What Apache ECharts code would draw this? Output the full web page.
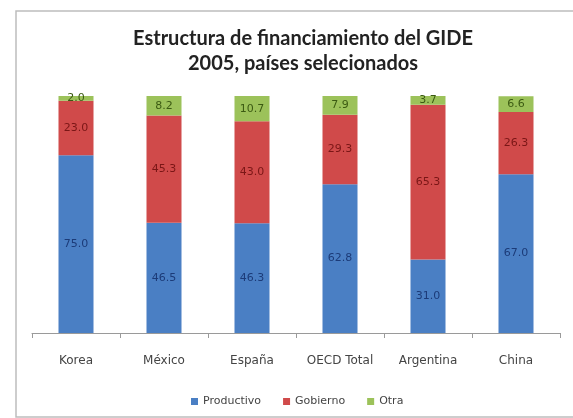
<!DOCTYPE html>
<html>
<head>
<meta charset="utf-8">
<script src="https://cdn.jsdelivr.net/npm/echarts@6/dist/echarts.min.js"></script>
<style>
  html, body { margin: 0; padding: 0; background: #ffffff; }
  #chart { width: 573px; height: 418px; }
</style>
</head>
<body>
<div id="chart"></div>
<script>
// Financing structure of GERD (%), 2005
const paises = ['Korea', 'México', 'España', 'OECD Total', 'Argentina', 'China'];
const productivo = [75.0, 46.5, 46.3, 62.8, 31.0, 67.0];
const gobierno = [23.0, 45.3, 43.0, 29.3, 65.3, 26.3];
const otra = [2.0, 8.2, 10.7, 7.9, 3.7, 6.6];

const TITLE_FONT = 'Lato, "Open Sans", sans-serif';
const FONT = '"DejaVu Sans", sans-serif';

function serie(name, data, color, labelColor) {
  return {
    name: name,
    type: 'bar',
    stack: 'total',
    barWidth: 35,
    data: data,
    itemStyle: { color: color },
    label: {
      show: true,
      position: 'inside',
      formatter: p => p.value.toFixed(1),
      color: labelColor,
      fontFamily: FONT,
      fontSize: 11
    },
    emphasis: { disabled: true }
  };
}

const chart = echarts.init(document.getElementById('chart'));
chart.setOption({
  animation: false,
  backgroundColor: '#ffffff',
  graphic: [{
    type: 'rect',
    shape: { x: 16, y: 11, width: 600, height: 406 },
    style: { fill: 'none', stroke: '#bdbdbd', lineWidth: 1.5 },
    silent: true,
    z: 0
  }],
  title: {
    text: 'Estructura de financiamiento del GIDE\n2005, países selecionados',
    left: 298,
    top: 21,
    textAlign: 'center',
    textStyle: {
      fontFamily: TITLE_FONT,
      fontWeight: 'bold',
      fontSize: 20,
      lineHeight: 25,
      color: '#222222'
    }
  },
  legend: {
    data: ['Productivo', 'Gobierno', 'Otra'],
    left: 186,
    top: 391,
    itemWidth: 7,
    itemHeight: 7,
    itemGap: 22,
    icon: 'rect',
    textStyle: { fontFamily: FONT, fontSize: 11, color: '#444444' }
  },
  grid: { left: 32, right: 13, top: 96, bottom: 85 },
  xAxis: {
    type: 'category',
    data: paises,
    axisLine: { lineStyle: { color: '#9a9a9a', width: 1 } },
    axisTick: { show: true, length: 5, lineStyle: { color: '#9a9a9a' } },
    axisLabel: { interval: 0, fontFamily: FONT, fontSize: 12, color: '#444444', margin: 22 }
  },
  yAxis: {
    type: 'value',
    min: 0,
    max: 100,
    show: false,
    splitLine: { show: false }
  },
  series: [
    serie('Productivo', productivo, '#4a7fc4', '#1c3b78'),
    serie('Gobierno', gobierno, '#d04a4a', '#7a1616'),
    serie('Otra', otra, '#9cc25a', '#3b5a12')
  ]
});
</script>
</body>
</html>
